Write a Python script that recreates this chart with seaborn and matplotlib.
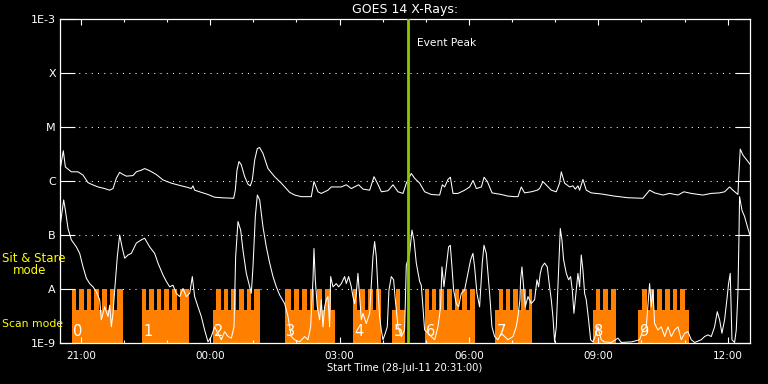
import numpy as np
import pandas as pd
import matplotlib
matplotlib.use("Agg")
import matplotlib.pyplot as plt
import matplotlib.dates as mdates
from matplotlib.ticker import NullLocator
import seaborn as sns

# ---------------- data ----------------
START = pd.Timestamp("2011-07-28 20:31:00")
SPAN_HOURS = 16.0

# GOES long channel (1-8 A): hours after start, log10 flux (W/m^2)
long_hours = [0.00, 0.077, 0.124, 0.185, 0.263, 0.417, 0.533, 0.649, 0.727, 0.881, 1.036, 1.151, 1.229, 1.306,
              1.383, 1.461, 1.538, 1.693, 1.770, 1.886, 1.963, 2.079, 2.233, 2.388, 2.581, 2.813, 2.968, 3.045,
              3.084, 3.122, 3.277, 3.432, 3.586, 3.741, 4.027, 4.065, 4.104, 4.150, 4.204, 4.282, 4.359, 4.413,
              4.460, 4.514, 4.575, 4.629, 4.707, 4.823, 4.977, 5.132, 5.325, 5.441, 5.595, 5.827, 5.889, 5.982,
              6.059, 6.214, 6.291, 6.523, 6.639, 6.755, 6.925, 7.026, 7.181, 7.281, 7.359, 7.452, 7.606, 7.722,
              7.838, 7.954, 8.031, 8.146, 8.224, 8.340, 8.456, 8.611, 8.804, 8.866, 8.920, 8.997, 9.052, 9.113,
              9.229, 9.384, 9.500, 9.578, 9.655, 9.771, 9.833, 9.910, 10.018, 10.234, 10.389, 10.544, 10.619,
              10.696, 10.773, 10.928, 11.067, 11.121, 11.198, 11.392, 11.508, 11.585, 11.624, 11.701, 11.817,
              11.895, 11.949, 12.010, 12.049, 12.126, 12.204, 12.319, 12.551, 12.860, 13.170, 13.517, 13.672,
              13.788, 13.981, 14.136, 14.329, 14.468, 14.638, 14.908, 15.101, 15.295, 15.411, 15.527, 15.604,
              15.720, 15.743, 15.774, 15.836, 15.952, 16.000]
long_log = [-5.80, -5.44, -5.74, -5.78, -5.83, -5.83, -5.89, -6.03, -6.06, -6.11, -6.14, -6.17, -6.14, -5.95,
            -5.84, -5.88, -5.91, -5.90, -5.83, -5.80, -5.77, -5.81, -5.88, -5.98, -6.04, -6.09, -6.12, -6.14,
            -6.09, -6.17, -6.21, -6.25, -6.30, -6.31, -6.32, -6.17, -5.80, -5.64, -5.70, -5.92, -6.06, -6.09,
            -5.98, -5.61, -5.40, -5.38, -5.49, -5.77, -5.92, -6.04, -6.21, -6.26, -6.29, -6.29, -6.01, -6.20,
            -6.23, -6.17, -6.11, -6.11, -6.07, -6.14, -6.07, -6.15, -6.17, -5.92, -6.04, -6.20, -6.18, -6.07,
            -6.20, -6.23, -6.04, -5.86, -5.95, -6.04, -6.20, -6.25, -6.26, -6.07, -6.11, -5.97, -5.93, -6.23,
            -6.23, -6.17, -6.11, -5.99, -6.14, -6.11, -5.93, -6.01, -6.22, -6.25, -6.28, -6.29, -6.29,
            -6.11, -6.22, -6.20, -6.17, -6.14, -6.01, -6.17, -6.20, -6.04, -5.83, -6.04, -6.11,
            -6.09, -6.15, -6.09, -6.17, -5.97, -6.17, -6.22, -6.24, -6.28, -6.31, -6.32, -6.17,
            -6.22, -6.26, -6.23, -6.26, -6.20, -6.23, -6.26, -6.23, -6.22, -6.20, -6.11, -6.17,
            -6.25, -5.86, -5.41, -5.52, -5.64, -5.69]

# GOES short channel (0.5-4 A)
short_hours = [0.00, 0.085, 0.124, 0.186, 0.263, 0.379, 0.456, 0.534, 0.611, 0.688, 0.765, 0.843, 0.920, 0.958,
               1.036, 1.113, 1.152, 1.190, 1.229, 1.268, 1.329, 1.384, 1.438, 1.500, 1.577, 1.654, 1.770, 1.886,
               1.963, 2.079, 2.195, 2.272, 2.388, 2.466, 2.543, 2.620, 2.697, 2.775, 2.852, 2.929, 3.007, 3.068,
               3.122, 3.200, 3.277, 3.354, 3.432, 3.509, 3.586, 3.664, 3.741, 3.818, 3.896, 3.973, 4.035, 4.073,
               4.127, 4.189, 4.243, 4.320, 4.398, 4.436, 4.475, 4.529, 4.576, 4.630, 4.707, 4.784, 4.862, 4.939,
               5.016, 5.093, 5.209, 5.287, 5.363, 5.441, 5.557, 5.673, 5.750, 5.812, 5.866, 5.889, 5.920, 5.966,
               6.020, 6.059, 6.098, 6.136, 6.175, 6.214, 6.252, 6.276, 6.330, 6.407, 6.461, 6.523, 6.600, 6.639,
               6.693, 6.755, 6.793, 6.832, 6.871, 6.909, 6.948, 6.987, 7.025, 7.102, 7.180, 7.257, 7.296, 7.334,
               7.373, 7.411, 7.450, 7.489, 7.543, 7.589, 7.628, 7.682, 7.736, 7.775, 7.837, 7.914, 7.991, 8.030,
               8.107, 8.161, 8.208, 8.262, 8.339, 8.378, 8.416, 8.455, 8.532, 8.609, 8.687, 8.764, 8.826, 8.857,
               8.903, 8.957, 9.011, 9.050, 9.089, 9.127, 9.189, 9.243, 9.305, 9.382, 9.460, 9.521, 9.575, 9.614,
               9.668, 9.730, 9.792, 9.831, 9.885, 9.923, 9.962, 10.016, 10.078, 10.155, 10.233, 10.310, 10.387,
               10.503, 10.580, 10.619, 10.665, 10.681, 10.712, 10.750, 10.789, 10.851, 10.928, 11.005, 11.060,
               11.098, 11.137, 11.175, 11.237, 11.299, 11.353, 11.392, 11.430, 11.469, 11.508, 11.546, 11.601,
               11.639, 11.678, 11.740, 11.794, 11.840, 11.879, 11.917, 11.971, 12.010, 12.049, 12.087, 12.126,
               12.165, 12.203, 12.257, 12.304, 12.358, 12.435, 12.474, 12.551, 12.628, 12.783, 12.938, 13.015,
               13.247, 13.440, 13.517, 13.595, 13.672, 13.711, 13.749, 13.788, 13.865, 13.942, 14.020, 14.097,
               14.174, 14.251, 14.329, 14.406, 14.483, 14.561, 14.638, 14.715, 14.870, 14.947, 15.024, 15.102,
               15.179, 15.241, 15.295, 15.349, 15.411, 15.472, 15.503, 15.542, 15.581, 15.643, 15.681, 15.720,
               15.743, 15.758, 15.813, 15.875, 15.952, 16.000]
short_log = [-6.85, -6.35, -6.54, -6.88, -7.09, -7.22, -7.34, -7.59, -7.80, -7.90, -7.96, -8.05, -8.20, -8.57,
             -8.33, -8.51, -8.30, -8.70, -8.45, -8.02, -7.40, -7.00, -7.22, -7.43, -7.37, -7.34, -7.15, -7.09,
             -7.06, -7.22, -7.34, -7.52, -7.74, -7.86, -7.96, -7.93, -8.08, -8.14, -7.99, -8.14, -8.08, -7.77,
             -8.14, -8.33, -8.51, -8.76, -8.98, -8.88, -8.70, -8.82, -8.94, -8.79, -8.88, -8.91, -8.70, -7.40,
             -6.75, -6.91, -7.28, -7.71, -7.96, -8.08, -7.59, -6.66, -6.26, -6.35, -6.85, -7.22, -7.52, -7.77,
             -7.96, -8.11, -8.27, -8.51, -8.88, -8.94, -8.98, -8.88, -8.94, -8.70, -7.83, -7.25, -7.83, -8.33,
             -8.57, -8.20, -8.70, -8.33, -8.20, -8.14, -8.70, -7.77, -7.96, -7.90, -7.96, -7.90, -7.77, -7.90,
             -7.77, -7.96, -8.14, -8.27, -8.08, -7.71, -8.14, -8.57, -8.45, -8.64, -8.45, -7.40, -7.12, -7.40,
             -8.02, -8.51, -8.76, -8.94, -8.82, -8.70, -8.02, -7.77, -7.83, -8.20, -8.70, -8.88, -8.76, -7.56,
             -7.34, -6.91, -7.09, -7.52, -7.86, -7.93, -8.33, -8.76, -8.82, -8.88, -8.94, -8.70, -8.33, -7.59,
             -7.96, -7.59, -7.22, -7.19, -7.59, -8.02, -8.27, -8.33, -8.08, -8.02, -7.71, -7.46, -7.34, -7.59,
             -8.08, -8.33, -7.52, -7.19, -7.34, -7.71, -8.08, -8.70, -8.88, -8.94, -8.82, -8.88, -8.94,
             -8.88, -8.70, -8.51, -8.20, -7.83, -7.59, -7.96, -8.33, -8.14, -8.27, -8.20, -7.83,
             -7.96, -7.71, -7.59, -7.52, -7.59, -7.96, -8.20, -8.51, -8.98, -8.70, -7.96, -6.88,
             -7.09, -7.46, -7.71, -7.83, -7.77, -8.02, -8.45, -8.02, -7.71, -7.96, -7.37, -7.65,
             -8.08, -8.20, -8.57, -8.94, -8.98, -8.82, -8.70, -8.94, -8.98, -8.99, -8.91, -8.99,
             -8.98, -8.94, -8.76, -8.70, -7.90, -8.33, -8.02, -8.64, -8.76, -8.70, -8.88, -8.70,
             -8.88, -8.76, -8.70, -8.94, -8.82, -8.79, -8.94, -8.99, -8.94, -8.88, -8.85, -8.88,
             -8.70, -8.42, -8.57, -8.82, -8.57, -8.14, -7.90, -7.71, -8.94, -8.99, -8.76, -8.08,
             -7.09, -6.29, -6.54, -6.66, -6.88, -7.00]

# Observing plan blocks (hours after start)
block_names = ["0", "1", "2", "3", "4", "5", "6", "7", "8", "9"]
block_start = [0.278, 1.901, 3.547, 5.210, 6.793, 7.698, 8.456, 10.086, 12.358, 13.401]
block_end = [1.454, 2.984, 4.637, 6.369, 7.443, 7.992, 9.615, 10.944, 12.891, 14.584]
teeth_start = [0.278, 1.901, 3.624, 5.210, 6.793, 7.783, 8.456, 10.172, 12.427, 13.494]
teeth_end = [1.454, 2.984, 4.637, 6.276, 7.443, 7.890, 9.615, 10.944, 12.891, 14.484]
first_gap = [0.371, 1.994, 3.726, 5.363, 6.893, 7.890, 8.549, 10.264, 12.527, 13.602]
gap_count = [6, 5, 5, 5, 3, 0, 6, 4, 2, 5]
GAP_PERIOD_H = 0.1778
GAP_WIDTH_H = 0.0696

# flux levels for the plan bars
scan_low, scan_top, stare_top = 1e-9, 10 ** -8.39, 1e-8

event_peak_hours = 8.06

ytick_vals = [1e-9, 1e-8, 1e-7, 1e-6, 1e-5, 1e-4, 1e-3]
ytick_labels = ["1E-9", "A", "B", "C", "M", "X", "1E-3"]

# ---------------- figure ----------------
plt.rcParams["font.family"] = ["DejaVu Sans"]
fig = plt.figure(figsize=(7.68, 3.84), dpi=100, facecolor="black")
ax = fig.add_axes([60 / 768, 1 - 343 / 384, 690 / 768, 324 / 384])
ax.set_facecolor("black")


def to_time(h):
    return START + pd.to_timedelta(np.asarray(h, dtype=float), unit="h")


def to_num(h):
    return mdates.date2num(to_time(h))


df_long = pd.DataFrame({"time": to_time(long_hours), "flux": 10 ** np.asarray(long_log)})
df_short = pd.DataFrame({"time": to_time(short_hours), "flux": 10 ** np.asarray(short_log)})

sns.lineplot(data=df_long, x="time", y="flux", ax=ax, color="white", lw=0.75,
             estimator=None, sort=False, zorder=2)
sns.lineplot(data=df_short, x="time", y="flux", ax=ax, color="white", lw=0.75,
             estimator=None, sort=False, zorder=2)

ax.set_yscale("log")
ax.set_ylim(1e-9, 1e-3)
ax.set_xlim(to_time([0.0])[0], to_time([SPAN_HOURS])[0])

orange = "#ff8000"
day = 1.0 / 24.0
for i, name in enumerate(block_names):
    s, e = to_num([block_start[i]])[0], to_num([block_end[i]])[0]
    ax.bar(s, scan_top - scan_low, width=e - s, bottom=scan_low, align="edge",
           color=orange, linewidth=0, zorder=1)
    ts, te = to_num([teeth_start[i]])[0], to_num([teeth_end[i]])[0]
    ax.bar(ts, stare_top - scan_top, width=te - ts, bottom=scan_top, align="edge",
           color=orange, linewidth=0, zorder=1)
    for k in range(gap_count[i]):
        g = first_gap[i] + k * GAP_PERIOD_H
        gs = to_num([g])[0]
        ax.bar(gs, stare_top - scan_top, width=GAP_WIDTH_H * day, bottom=scan_top,
               align="edge", color="black", linewidth=0, zorder=1.1)
    ax.annotate(name, xy=(s, 10 ** -8.93), xytext=(1, 0), textcoords="offset points",
                ha="left", va="bottom", color="white", fontsize=10.5, zorder=1.5)

# dotted level lines
for v in ytick_vals[1:-1]:
    ax.axhline(v, color="white", linestyle=(0, (1, 5)), linewidth=0.75, zorder=0.5)

# event peak
ev = to_time([event_peak_hours])[0]
ax.axvline(ev, color="#8cc800", linewidth=2.0, zorder=3)
ax.annotate("Event Peak", xy=(ev, 10 ** -3.44), xytext=(7, 0), textcoords="offset points",
            ha="left", va="center", color="white", fontsize=7.7)

# axes styling
for sp in ax.spines.values():
    sp.set_color("white")
    sp.set_linewidth(0.9)

ax.xaxis.set_major_locator(mdates.HourLocator(byhour=range(0, 24, 3)))
ax.xaxis.set_minor_locator(mdates.HourLocator())
ax.xaxis.set_major_formatter(mdates.DateFormatter("%H:%M"))
ax.tick_params(axis="x", which="major", direction="in", top=True, bottom=True,
               length=4.3, width=0.8, color="white", labelcolor="white", labelsize=7.5, pad=5.5)
ax.tick_params(axis="x", which="minor", direction="in", top=True, bottom=True,
               length=2.4, width=0.8, color="white")

ax.set_yticks(ytick_vals)
ax.set_yticklabels(ytick_labels)
ax.yaxis.set_minor_locator(NullLocator())
ax.tick_params(axis="y", which="major", direction="in", left=True, right=True,
               length=10.5, width=0.8, color="white", labelcolor="white", labelsize=8, pad=3)

ax.set_xlabel("")
ax.set_ylabel("")

# texts
fig.text(405 / 768, 1 - 10 / 384, "GOES 14 X-Rays:", ha="center", va="center",
         color="white", fontsize=9)
fig.text(405 / 768, 1 - 368 / 384, "Start Time (28-Jul-11 20:31:00)", ha="center", va="center",
         color="white", fontsize=7.2)
fig.text(2 / 768, 1 - 259 / 384, "Sit & Stare", ha="left", va="center", color="#ffff00", fontsize=8.5)
fig.text(13 / 768, 1 - 271 / 384, "mode", ha="left", va="center", color="#ffff00", fontsize=8.5)
fig.text(2 / 768, 1 - 324 / 384, "Scan mode", ha="left", va="center", color="#ffff00", fontsize=7.8)

fig.savefig("out.png", dpi=100, facecolor="black")
